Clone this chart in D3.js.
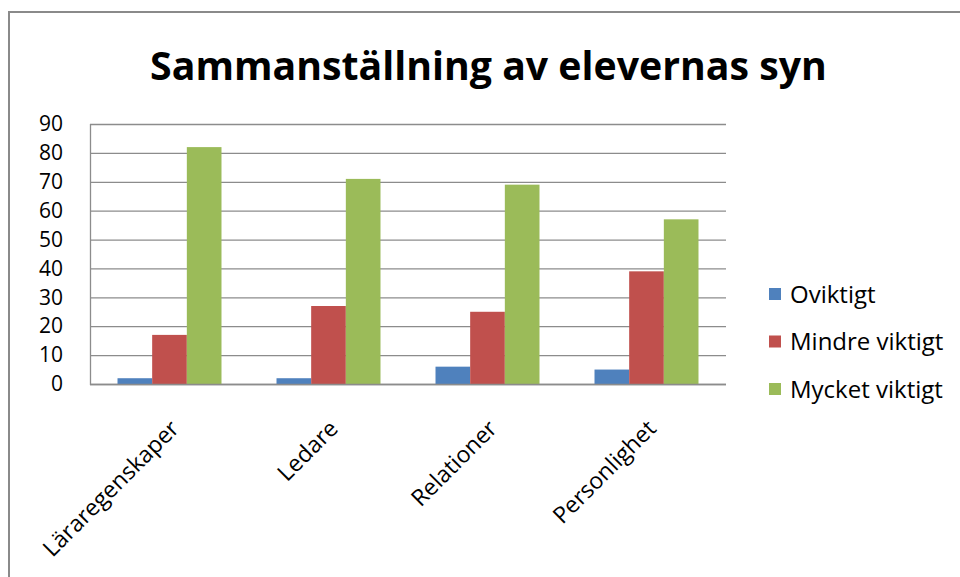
<!DOCTYPE html>
<html>
<head>
<meta charset="utf-8">
<script src="https://cdn.jsdelivr.net/npm/d3@7"></script>
<style>
  html, body { margin: 0; padding: 0; background: #fff; }
  svg { display: block; }
  text { font-family: "Open Sans", "DejaVu Sans", sans-serif; fill: #000; }
</style>
</head>
<body>
<svg id="chart" width="960" height="577"></svg>
<script>
const title = "Sammanställning av elevernas syn";
const categories = ["Läraregenskaper", "Ledare", "Relationer", "Personlighet"];
const seriesNames = ["Oviktigt", "Mindre viktigt", "Mycket viktigt"];
const oviktigt = [2, 2, 6, 5];
const mindreViktigt = [17, 27, 25, 39];
const mycketViktigt = [82, 71, 69, 57];
const seriesValues = [oviktigt, mindreViktigt, mycketViktigt];
const colors = ["#4F81BD", "#C0504D", "#9BBB59"];
const yTicks = [0, 10, 20, 30, 40, 50, 60, 70, 80, 90];

const svg = d3.select("#chart");

// outer chart border
svg.append("rect")
  .attr("x", 9).attr("y", 12)
  .attr("width", 970).attr("height", 600)
  .attr("fill", "#fff").attr("stroke", "#8a8a8a").attr("stroke-width", 2);

const plot = { left: 90, right: 726, top: 124, bottom: 384 };

const y = d3.scaleLinear().domain([0, 90]).range([plot.bottom, plot.top]);
const x0 = d3.scaleBand().domain(categories)
  .range([plot.left, plot.right]).paddingInner(0.346).paddingOuter(0.173);
const x1 = d3.scaleBand().domain(seriesNames).range([0, x0.bandwidth()]);

// gridlines
const grid = svg.append("g");
grid.selectAll("line").data(yTicks).join("line")
  .attr("x1", plot.left).attr("x2", plot.right)
  .attr("y1", d => y(d) + 0.5).attr("y2", d => y(d) + 0.5)
  .attr("stroke", "#8c8c8c").attr("stroke-width", 1.3);
// left axis line
svg.append("line")
  .attr("x1", plot.left + 0.5).attr("x2", plot.left + 0.5)
  .attr("y1", plot.top).attr("y2", plot.bottom + 1)
  .attr("stroke", "#8c8c8c").attr("stroke-width", 1.3);

// y axis labels
const yAxis = d3.axisLeft(y).tickValues(yTicks).tickSize(0).tickPadding(27);
const yg = svg.append("g").attr("transform", `translate(${plot.left},0)`).call(yAxis);
yg.select(".domain").remove();
yg.selectAll("text").style("font-size", "21px").style("font-family", '"Open Sans", sans-serif').attr("fill", "#000");

// bars
const groups = svg.append("g").selectAll("g").data(categories).join("g")
  .attr("transform", d => `translate(${x0(d)},0)`);
groups.selectAll("rect")
  .data((c, i) => seriesNames.map((s, j) => ({ s, v: seriesValues[j][i], j })))
  .join("rect")
  .attr("x", d => x1(d.s))
  .attr("width", x1.bandwidth())
  .attr("y", d => y(d.v))
  .attr("height", d => y(0) - y(d.v))
  .attr("fill", d => colors[d.j]);

// bottom axis line (over bars)
svg.append("line")
  .attr("x1", plot.left).attr("x2", plot.right)
  .attr("y1", plot.bottom + 0.5).attr("y2", plot.bottom + 0.5)
  .attr("stroke", "#8c8c8c").attr("stroke-width", 1.3);

// x labels
const xAxis = d3.axisBottom(x0).tickSize(0).tickPadding(0);
const xg = svg.append("g").attr("transform", `translate(0,${plot.bottom})`).call(xAxis);
xg.select(".domain").remove();
xg.selectAll("text")
  .style("font-size", "23px").style("font-family", '"Open Sans", sans-serif').attr("fill", "#000")
  .attr("text-anchor", "end")
  .attr("dy", 0)
  .attr("y", 0)
  .attr("transform", "translate(11,46) rotate(-45)");

// legend
const legend = svg.append("g").selectAll("g").data(seriesNames).join("g")
  .attr("transform", (d, i) => `translate(769,${294 + i * 47.5})`);
legend.append("rect")
  .attr("x", 0).attr("y", -6).attr("width", 12).attr("height", 12)
  .attr("fill", (d, i) => colors[i]);
legend.append("text")
  .attr("x", 21).attr("y", 0).attr("dy", "0.36em")
  .style("font-size", "24px")
  .text(d => d);

// title
const t = svg.append("text")
  .attr("x", 488.5).attr("y", 80)
  .attr("text-anchor", "middle")
  .style("font-weight", "bold")
  .style("font-size", "44px")
  .text(title);
const w = t.node().getComputedTextLength();
t.style("font-size", (44 * 677 / w).toFixed(2) + "px");
</script>
</body>
</html>
